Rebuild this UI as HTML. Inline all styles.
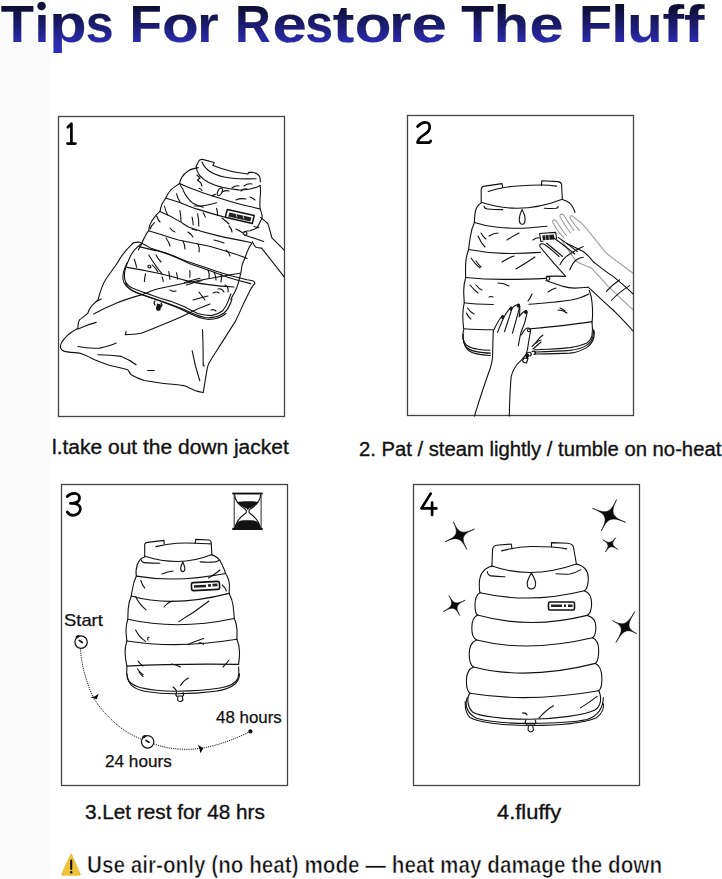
<!DOCTYPE html>
<html><head><meta charset="utf-8">
<style>
*{margin:0;padding:0;box-sizing:border-box}
html,body{width:722px;height:879px;background:#fff;overflow:hidden;position:relative}
body{font-family:"Liberation Sans",sans-serif;}
.w{position:absolute;top:-2px;font-weight:bold;font-size:51.5px;line-height:52px;height:52px;transform-origin:0 0;white-space:nowrap;
 background:linear-gradient(180deg,#0b0b33 0%,#0b0b33 14%,#16166a 45%,#2b2bb8 82%,#2b2bb8 100%);-webkit-background-clip:text;background-clip:text;color:transparent;}
.cap{position:absolute;font-size:20px;line-height:20px;color:#111;-webkit-text-stroke:0.35px #111;white-space:nowrap;transform-origin:0 0}
.lbl{position:absolute;font-size:16.5px;line-height:16.5px;-webkit-text-stroke:0.25px #111;color:#111;white-space:nowrap;transform-origin:0 0}
svg{position:absolute;left:0;top:0}
.s path,.s ellipse,.s circle,.s line,.s polyline{fill:none;stroke:#111;stroke-width:1.1;stroke-linecap:round;stroke-linejoin:round}
.f{fill:#0a0a0a;stroke:none}
.bx{fill:none;stroke:#444;stroke-width:1.3}
.num{fill:none;stroke:#000;stroke-width:2.7;stroke-linecap:round;stroke-linejoin:round}
</style></head><body>
<div id="lstrip" style="position:absolute;left:0;top:0;width:50px;height:879px;background:#fbfbfb"></div>

<div class="cap m" style="left:52.3px;top:437px;transform:scaleX(1.049)">l.take out the down jacket</div>
<div class="cap m" style="left:359px;top:439px;transform:scaleX(1.012)">2. Pat / steam lightly / tumble on no-heat</div>
<div class="cap m" style="left:85px;top:802px;transform:scaleX(1.037)">3.Let rest for 48 hrs</div>
<div class="cap m" style="left:497px;top:802px;transform:scaleX(1.095)">4.fluffy</div>
<div class="cap m" style="left:86.5px;top:853.5px;font-size:23px;line-height:23.5px;font-weight:bold;-webkit-text-stroke:0.6px #fff;paint-order:fill stroke;color:#111;transform:scaleX(0.9)">Use air-only (no heat) mode — heat may damage the down</div>

<div class="lbl m" style="left:64px;top:612px;transform:scaleX(1.115)">Start</div>
<div class="lbl m" style="left:105px;top:753px;transform:scaleX(1.04)">24 hours</div>
<div class="lbl m" style="left:216px;top:708.7px;transform:scaleX(1.024)">48 hours</div>

<svg width="722" height="879" viewBox="0 0 722 879">
<rect class="bx" x="58.5" y="116.5" width="226" height="300"/>
<rect class="bx" x="407.5" y="115.5" width="226" height="300"/>
<rect class="bx" x="61.5" y="484.5" width="226" height="301"/>
<rect class="bx" x="413.5" y="484.5" width="226" height="301"/>
<!-- numbers -->
<path class="num" d="M67.8,127.2 L71.4,123.6 L71.4,143.6 M67.5,143.6 L75.4,143.6"/>
<path class="num" d="M417.5,126.6 C420.9,122.8 424.7,121.9 427.5,122.8 C430,123.8 430.5,127.5 428.5,131 C426.5,134 421,136 419,139 C418,140.5 417.6,141.8 417.6,142.7 L429.2,142.7 L430.8,141"/>
<path class="num" d="M67.2,496.5 C69.5,493.8 72.5,493.2 75,493.4 C78,493.8 79.8,496 79.5,498.5 C79.2,501.3 76.5,503 72.5,503.3 L70.5,503.4 M72.5,503.3 C77,503.5 80.5,505.5 80.4,509 C80.3,513 76.5,515.3 73.2,515.3 C70.5,515.3 68.5,514 67.3,512"/>
<path class="num" d="M430.7,493.6 L421.5,508.4 L436.4,508.4 M432.1,502.6 L432.1,515"/>
<!-- warning icon -->
<path d="M70.7,854.5 Q71.2,853.7 71.7,854.5 L80.3,874.3 Q80.6,875.3 79.6,875.3 L62.2,875.3 Q61.2,875.3 61.6,874.3 Z" fill="#eec335" stroke="#e0b020" stroke-width="0.6"/>
<path d="M71.2,860.5 L71.2,869" stroke="#111" stroke-width="2.1" stroke-linecap="round"/>
<circle cx="71.2" cy="872.3" r="1.2" fill="#111"/>
<path d="M453.3,521.8 C458.7,533.4 461.9,534.5 474.6,529.1 C461.9,534.5 460.7,537.5 466.9,549.5 C460.7,537.5 457.4,536.3 445.0,541.7 C457.4,536.3 458.7,533.4 453.3,521.8 Z" fill="#0a0a0a" stroke="#0a0a0a" stroke-width="0.6" stroke-linejoin="miter" stroke-miterlimit="20"/>
<path d="M616.6,499.6 C610.2,513.0 611.6,516.4 625.7,522.4 C611.6,516.4 607.9,517.8 601.2,531.1 C607.9,517.8 606.6,514.3 592.5,508.3 C606.6,514.3 610.2,513.0 616.6,499.6 Z" fill="#0a0a0a" stroke="#0a0a0a" stroke-width="0.6" stroke-linejoin="miter" stroke-miterlimit="20"/>
<path d="M615.7,537.8 C611.3,543.2 611.6,545.3 617.8,549.4 C611.6,545.3 609.4,545.8 605.4,551.9 C609.4,545.8 609.0,543.6 602.9,539.9 C609.0,543.6 611.3,543.2 615.7,537.8 Z" fill="#0a0a0a" stroke="#0a0a0a" stroke-width="0.6" stroke-linejoin="miter" stroke-miterlimit="20"/>
<path d="M448.9,595.5 C453.6,604.0 456.0,604.7 465.2,600.2 C456.0,604.7 455.2,607.0 459.7,615.5 C455.2,607.0 452.7,606.4 443.3,611.6 C452.7,606.4 453.6,604.0 448.9,595.5 Z" fill="#0a0a0a" stroke="#0a0a0a" stroke-width="0.6" stroke-linejoin="miter" stroke-miterlimit="20"/>
<path d="M634.9,611.5 C626.7,625.0 626.9,628.3 636.8,633.7 C626.9,628.3 623.8,629.6 615.9,642.4 C623.8,629.6 623.3,626.4 612.5,620.6 C623.3,626.4 626.7,625.0 634.9,611.5 Z" fill="#0a0a0a" stroke="#0a0a0a" stroke-width="0.6" stroke-linejoin="miter" stroke-miterlimit="20"/>
<g class="s">
<path d="M492.1,566.0 C484.4,568.2 479.3,574.1 479.3,584.0 C479.3,588.8 479.6,591.7 480.1,592.7"/>
<path d="M576.4,564.0 C583.5,565.7 588.3,570.3 588.3,578.0 C588.3,585.0 586.7,589.2 584.3,590.7"/>
<path d="M480.1,592.7 C477.0,594.2 475.0,598.2 475.0,605.0 C475.0,610.5 476.0,613.8 477.4,615.0"/>
<path d="M584.3,590.7 C588.7,592.2 591.6,596.5 591.6,603.5 C591.6,610.0 589.8,614.0 587.1,615.4"/>
<path d="M477.4,615.0 C474.0,616.6 471.8,620.9 471.8,628.0 C471.8,634.6 473.8,638.6 476.7,640.0"/>
<path d="M587.1,615.4 C592.4,616.8 595.9,620.6 595.9,627.0 C595.9,632.9 594.5,636.5 592.5,637.8"/>
<path d="M476.7,640.0 C472.2,641.7 469.2,646.3 469.2,654.0 C469.2,661.1 470.9,665.4 473.5,667.0"/>
<path d="M592.5,637.8 C596.2,639.3 598.7,643.3 598.7,650.0 C598.7,657.4 597.4,661.8 595.5,663.4"/>
<path d="M473.5,667.0 C469.2,668.7 466.4,673.3 466.4,681.0 C466.4,687.8 467.8,691.8 470.0,693.3"/>
<path d="M595.5,663.4 C599.3,665.2 601.9,670.2 601.9,678.5 C601.9,685.2 600.7,689.2 598.9,690.7"/>
<path d="M480.1,592.7 Q529.8,604.3 584.3,590.7"/>
<path d="M477.4,615.0 Q529.8,629.8 587.1,615.4"/>
<path d="M476.7,640.0 Q527.4,653.1 592.5,637.8"/>
<path d="M473.5,667.0 Q527.5,680.8 595.5,663.4"/>
<path d="M470.0,693.3 Q527.5,703.0 598.9,690.7"/>
</g>
<g class="s">
<path d="M491.9,566.2 L492.6,549.5 Q493,545.6 496.5,545.2 L511.3,544 L512,548.9"/>
<path d="M501.6,550.9 C512,548 522,546.6 531,546.5 C545,546.4 558,547.3 566.7,548.9"/>
<path d="M551.5,546.8 L551.5,542.6 L568,543.2 Q573.4,544 573.6,548 L576.4,564"/>
<path d="M492.1,566 Q531,580 576.4,564"/>
<path d="M487.3,571.6 Q488,575.5 491,575.9 Q498,576.8 505,576.7"/>
<path d="M556,573.8 Q565,574.5 570,574 Q576,572.5 580.8,569.6"/>
<path d="M531.4,573.1 C529,577 527.2,580.5 527.2,583.8 C527.2,587.5 529,589 531.4,589 C533.8,589 535.6,587.5 535.6,583.8 C535.6,580.5 533.8,577 531.4,573.1 Z"/>
<path d="M470,693.3 C467,696 466.5,706 472.5,712 C478,716 505,719.5 530.6,719.3 C556,719 585,715 595,710 C601,706 602,698 598.9,690.7"/>
<path d="M467.3,697.5 C465,703 465.5,713 476.6,718.2 C490,722 510,723.5 530.6,723.4 C552,723.3 575,722 587,719.5 C598,716 603,708 603.4,697.5"/>
<path d="M465.2,701.6 C465,708 466,714 470,717.5 C478,722 500,725.5 530.6,725.5 C560,725.5 585,722.5 596,718 C602,714 604,708 603.4,703.7"/>
<path d="M539,718.2 Q546,710 553.5,705.8"/><path d="M522.3,713 Q526,712.5 527,715"/>
<path d="M580.5,707.9 Q590,702 597.1,696.4"/>
<path d="M526,720 q-2,3 1,4.5 M535,720 q2,3 -1,4.5"/>
<path class="f" d="M528.5,725 L532.5,725 L533.5,730 Q530.6,734 528,730 Z"/>
</g>
<rect x="548.5" y="602" width="26" height="8" rx="1.5" fill="#fff" stroke="#111" stroke-width="1.6"/>
<path d="M551,604.5 h11 v2.6 h-11z M564,604.5 h2 v2.6 h-2z M568,604.5 h4.5 v2.6 h-4.5z" fill="#222"/>
<g class="s">
<path d="M144.7,556.3 L144.7,544.8 Q145,542.6 147.5,542.4 L164.1,540.4 L164.1,543.9"/>
<path d="M155.8,546.6 C163,544.8 170,543.6 176.6,543.2 C184,542.8 190,542.9 195.9,543.2 C201,543.4 206,543.6 210.5,543.9"/>
<path d="M195.2,543.2 L195.7,539.4 L209.1,540 Q211.2,540.8 211.2,542.5 L211.9,554.6"/>
<path d="M144.7,556.3 Q180.7,567.5 211.9,554.6"/>
<path d="M144.7,557 C141,558 138.5,561 137.2,565 C136,569 135.7,573 136.4,576.1"/>
<path d="M211.9,554.9 C216,556 219.5,559 221.5,563.5 C223.5,567.5 224.8,570.5 225.6,573.5"/>
<path d="M141.2,559.8 Q142,562.5 144.5,562.6 Q152,563.2 159.9,563.2"/>
<path d="M200.1,561.9 Q208,562.5 215.3,561.9 Q217.5,561.3 218.8,560.5"/>
<path d="M182.8,561.9 C181.5,564.5 180.7,566.5 180.7,568.5 C180.7,570.5 181.6,571.6 182.8,571.6 C184,571.6 184.9,570.5 184.9,568.5 C184.9,566.5 184,564.5 182.8,561.9 Z"/>
<path d="M136.4,576.1 Q177.1,583 225.6,573.5"/>
<path d="M136.4,576.1 C134,581 133,585 132.5,589 C132,592 131.5,594 131.3,596"/>
<path d="M225.6,573.5 C228,577 229.3,581 229.4,585 C229.5,588 229.3,590.5 229.1,593.4"/>
<path d="M131.3,596 Q171.9,608 229.1,593.4"/>
<path d="M131.3,596 C129.5,600 128.5,605 128.2,609 C128,613 127.9,616 127.8,619.3"/>
<path d="M229.1,593.4 C231,597 232.5,601 233,605 C233.5,609 234,614 234.3,618.5"/>
<path d="M127.8,619.3 Q177.1,630.5 234.3,618.5"/>
<path d="M127.8,619.3 C126.5,623 126,627 126,630.5 C126,634 126.5,637.5 126.9,641"/>
<path d="M234.3,618.5 C236,622 236.9,626 237,630 C237.1,634 237,637 236.9,639.3"/>
<path d="M126.9,641 Q177.1,649 236.9,639.3"/>
<path d="M126.9,641 C125.5,645 125,649 125.1,653 C125.2,657 125.8,661.5 126.9,666.1"/>
<path d="M236.9,639.3 C238.5,643 239.4,647 239.5,651.4 C239.6,656 239.2,660 238.6,664.4"/>
<path d="M126.9,666.1 Q177.1,663.5 238.6,664.4"/>
<path d="M126.9,667 C126.5,671 126.5,675 127.5,678.5 C129,682.5 133,685.5 140,687.5 C152,690.5 165,691.3 177.1,691.2 C192,691 208,690 220,688 C229,686.5 236,683 238,678 C239,674.5 239,670 238.6,667"/>
<path d="M126.9,673.9 C127.5,678.5 128.5,682 131,684.8 C135,688.5 140,690.5 146,691.5 C157,693.3 167,693.9 177.1,693.8 C190,693.7 203,692.8 215.2,691.2 C224,690 231,687.5 235,684 C238.5,680.5 239.5,677 239.5,673.9"/>
<path d="M140.8,580.4 Q142,585 144.8,588.2"/><path d="M135.6,596.5 Q139,604 146,609.8"/>
<path d="M164,607 Q168,602 173,601"/><path d="M178.8,621.6 Q195,612 209,601"/><path d="M222.2,585 Q225,587 226.4,591"/>
<path d="M135.6,630 Q139,637 145.5,641.4"/><path d="M148,640 Q147,637 149,637.5"/>
<path d="M187.8,644.5 Q196,641 203.5,638.5"/><path d="M199,643 Q202,642.5 203.5,644.5"/>
<path d="M138,661 Q140,664 143,666"/><path d="M171.5,664 Q176,664.5 180.5,667"/><path d="M223,667 Q226,664 229,660"/>
<path d="M137.5,669 Q140,672.5 143,674.5"/><path d="M139,672 Q141,675 143,676.5"/>
<path d="M180.6,685.5 Q184,680 188.5,678"/><path d="M173,687 Q175,688 176.5,691"/>
<path d="M162,574 Q168,571.5 173,571"/><path d="M208.5,578 Q214,575 220,570"/>
<path d="M176.5,692.5 q-1.5,2.5 0.5,4 M183,692.5 q1.5,2.5 -0.5,4"/>
<path d="M178,696 L182,696 L183,700 Q180,703 177.5,700 Z" style="fill:#fff"/>
</g>
<rect x="191.5" y="582" width="28" height="8" rx="2" fill="#fff" stroke="#111" stroke-width="1.6" transform="rotate(-3 205 586)"/>
<path d="M194,584.7 h12 v2.6 h-12z M208,584.4 h3 v2.6 h-3z M212.5,584.2 h5 v2.6 h-5z" fill="#222" transform="rotate(-3 205 586)"/>
<g class="s">
<circle cx="81.1" cy="642.1" r="6.2" style="stroke-width:1.25"/>
<circle cx="147.6" cy="741.8" r="6.2" style="stroke-width:1.25"/>
<path d="M79.3,640.4 L82.3,642.5 M146.1,740.5 L148.9,742.2" style="stroke-width:1.7"/>
</g>
<ellipse cx="77.6" cy="636.6" rx="2.2" ry="1.3" transform="rotate(-35 77.6 636.6)" fill="#111"/>
<ellipse cx="144.2" cy="736.6" rx="2.2" ry="1.3" transform="rotate(-30 144.2 736.6)" fill="#111"/>
<path d="M80.5,648.4 C81,662 85,678 91.7,694.2 C97,705 108,718 122.4,729 C128,733 134,736 141.2,739.2" fill="none" stroke="#1a1a1a" stroke-width="1.0" stroke-dasharray="1.2 1"/>
<path d="M153.9,743.8 C163,747.5 175,749.5 188,749.3 C205,749 225,744 250.1,731.6" fill="none" stroke="#1a1a1a" stroke-width="1.0" stroke-dasharray="1.2 1"/>
<path class="f" d="M90.4,697.2 L95,696.2 L98.8,693.4 L96.8,699.3 Z"/>
<path class="f" d="M197.8,744.8 L203.4,748.3 L200.4,753.2 L199.3,748.3 Z"/>
<circle cx="250.4" cy="731.4" r="2.1" fill="#111"/>
<g>
<rect x="232.3" y="492.6" width="30.4" height="1.9" fill="#111"/>
<rect x="232.3" y="527.9" width="30.4" height="2.1" fill="#111"/>
<path d="M234.2,494.5 V528 M261.1,494.5 V528" stroke="#111" stroke-width="0.9"/>
<path d="M234.6,494.5 C235,502 240,506 245.4,509.3 C246.4,510.3 246.5,512 245.9,513 C240,517 236,522 235,528 M260.6,494.5 C260.3,502 255.5,506 249.9,509.3 C248.9,510.3 248.8,512 249.4,513 C255.4,517 259.4,522 260.3,528" fill="none" stroke="#111" stroke-width="1.1"/>
<path d="M237.1,502 C242,501 253,501 258.9,502 C256,505 251,507.5 248.8,508.5 L247.9,510.6 L246.7,508.5 C244,507.5 239,505 237.1,502 Z" fill="#111"/>
<path d="M234.7,528 C235.5,524 237.5,521.5 241,520.6 C245,520 250,520 254,520.6 C258,521.5 260,524 260.7,528 Z" fill="#111"/>
</g>

<g class="s">
<!-- collar -->
<path d="M481.2,202 L481.2,189.5 Q481.5,186.3 484.7,186.1 L502,183.6 L502.7,187.5"/>
<path d="M488.2,191.6 C493,189.8 497,188.5 502.7,187.7 C508,186.8 514,186.2 520.7,185.8 C528,185.3 535,185.1 541.5,185 C547,185 552,185.4 556.7,186.1"/>
<path d="M541.5,185.4 L541.8,180.8 L558.1,181.6 Q561.4,182.3 561.6,184.5 L562.3,199.2"/>
<path d="M481.2,202.3 Q520.7,215.5 562.3,199.2"/>
<path d="M481.2,203 C479,204 477.8,205.5 477.1,206.9 C475.8,209 475.2,211.5 475,213.8 C474.6,217 474.4,220 474.4,222.4"/>
<path d="M562.3,199.6 C565,200.5 567.5,201.5 569.2,202.7 C571,204.5 572.4,206.2 573.3,208.2 C574,209.6 574.6,211 575,212.4"/>
<path d="M484,206.2 Q484.5,208.9 487.5,209 Q495,209.5 502.7,209.6"/>
<path d="M544.3,208.2 Q551,208.6 556,208.3 Q558.3,207.8 558.1,206.2"/>
<path d="M522.1,209.6 C520.5,213 519.3,216 519.3,219.5 C519.3,222.5 520.6,224.2 522.4,224.2 C524.2,224.2 525.1,222.5 525.1,219.5 C525.1,216 524,213 522.1,209.6 Z"/>
<path d="M474.4,222.4 C481,224.5 488,226.2 495.8,227 C503,227.8 510,228.3 516.6,228.3 C526,228.2 536,227.4 547,226.2"/>
<path d="M474.4,222.4 C472.5,226.5 471.2,231 470.5,235.9 C469.7,240.5 469,245 468.6,249.5"/>
<path d="M468.6,249.5 C480,251.7 491,253 503.5,253.4 C516,253.7 528,253.3 540.3,252.4"/>
<path d="M468.6,249.5 C467,254 466,258.5 465.7,263.1 C465.4,268 465.5,273 465.7,277.5"/>
<path d="M465.7,277.5 C478,278.8 490,279.4 503.5,279.4 C518,279.4 532,279 546.1,278.4"/>
<path d="M465.7,277.5 C464.3,282 463.7,286.5 463.7,291 C463.7,295 464,299 464.3,302.7"/>
<path d="M464.3,302.7 C472,303.8 482,304.3 493.3,304.5"/>
<path d="M529,304.2 C537,303.8 545,303 553.2,302.2 C560,301.5 566,300.8 571,300 C578,298.6 584,296.5 588.7,293.9"/>
<path d="M589.3,290.5 C590.8,294 591.7,298 592,302.2 C592.4,306 592.6,309.5 592.6,313.2 C592.6,316.5 592.4,319.3 592,322.1"/>
<path d="M464.3,302.7 C463.2,307 462.8,311.5 462.8,316.2 C462.8,320.5 463.1,324.7 463.7,328.8"/>
<path d="M463.7,328.8 C473,329.4 483,329.7 493.3,329.8"/>
<path d="M530.5,328.8 C542,327.8 553,326.8 564.3,325.4 C574,324.2 583,323 592,321.6"/>
<path d="M463.7,329.8 C462.9,332.5 462.6,335 462.8,337.6 C463.3,341 464.6,343.5 466.6,345.3 C469.5,347.4 473.5,348.6 478.3,349.2 C482,349.8 486,350.1 490,350.3"/>
<path d="M534.4,349.8 C539,349.6 543.5,349.5 547.7,349.3 C555,349 562.5,348.5 569.9,347.6 C576.5,346.6 582,345.2 586.5,343.2 C589.5,341.4 591.5,338.5 592,335.4 C592.6,332 593,330 592,322.1"/>
<path d="M463.3,334 C462.8,339 463.6,344 466.6,347.5 C470,350.5 476,352 483,352.6 C486,352.9 489,353.1 490.5,353.1"/>
<path d="M534.4,352 C546,351.6 558,351.2 569.9,350.4 C577,349.6 582.5,348 586.5,345.4 C590,343 592,340 592.6,337.6 C593.2,335 593.6,332.5 593.7,329.9"/>
<path d="M463.2,338 C463.5,343 465,347.5 468.5,350.5 C472.5,353.5 479,355 490.5,355.5"/>
<path d="M534.4,354 C546,353.8 558,353.6 569.9,353.1 C577,352.4 582.5,350 586.5,347.6 C590.5,345 592.8,341.5 593.8,337.5 C594.4,335 594.5,333 594.2,331"/>
<!-- creases -->
<path d="M478,236 Q481,243 485,247"/><path d="M481,233 Q483,237 486,239"/>
<path d="M489,236 Q494,233 498,233"/><path d="M507,240 Q513,236 519,233"/>
<path d="M533,240 Q537,237 540,238"/>
<path d="M471,258 Q475,264 480,268"/><path d="M476,261 Q479,265 481,267"/>
<path d="M502,262 Q508,258 514,256"/><path d="M516,269 Q526,263 535,257"/>
<path d="M470,285 Q474,290 478,293"/><path d="M476,285 Q479,289 482,290"/>
<path d="M489,297 Q491,296 493,297"/><path d="M498,283 Q504,283 509,286"/>
<path d="M548,292 Q552,289 556,288"/><path d="M528,301 Q531,297 532,294"/>
<path d="M558,310 Q563,310 567,313"/><path d="M560,308 Q563,309 565,311"/>
<path d="M467.5,308 Q470,312 474,314"/><path d="M466.5,313 Q468,317 471,319"/>
<path d="M536,343 Q539,340 541,340"/><path d="M537,341 Q540,337 543,335"/>
<!-- right dark hand -->
<path d="M539.6,233.5 L555.7,232.4 L556.5,238.5 M539.6,233.5 L540.8,241.5 L543,241.3"/>
<path d="M542,243.8 C540.2,243.8 539.4,245 539.9,246.5 C548,256.5 556.5,266.5 565.7,276.4"/>
<path d="M542,243.8 C543.5,243.6 545,244.5 546,245.5 C551,249 555,252.5 559,256.5"/>
<path d="M546.6,243.2 C552,247.5 557.5,252 562.4,256.5"/>
<path d="M554.1,238.2 C561,243 568,248.5 574.8,254"/>
<path d="M558.2,237.4 C565,242 571,246.5 577.3,251.5"/>
<path d="M566.5,243.2 C569,244.5 572,245.8 574.8,247.3 C578,249 581,250.5 583.2,251.5 C587,254.5 590.5,258 593.1,261.5 C600,267 606,272 613.1,276.4 C620,282 627,288 633,293.9"/>
<path d="M559.9,264.8 C562,260.5 565.5,256.5 569.9,254 C574,251 578.5,248.5 583.2,246.5"/>
<path d="M569.9,269.8 C571.5,265.5 573.5,262 576.5,259.8 C578.5,258.5 581,257.5 583.2,257.3"/>
<path d="M546.6,276.4 C552.5,276 558.5,276 564.9,276.4"/>
<path d="M545.8,280.6 C551.5,282.5 557.5,284.5 563.2,286.4 C567,287.5 571,288 574.8,288.1 C579.5,288 584,287.6 588.1,287.2"/>
<path d="M588.1,287.2 C598,296 606,304 613.1,310 C620,317 627,324 633,331"/>
<path d="M606.4,291.4 Q612,285 619.7,279.7"/><path d="M611.4,300.5 Q619,292 629.7,285.6"/>
<circle cx="548.1" cy="278.5" r="1.8"/>
<path d="M542.3,235.5 L553.8,234.6 L554.3,239.5 L542.8,240.3 Z" style="fill:#1a1a1a;stroke:none"/><path d="M545.5,235.5 L545.8,239.8 M549,235 L549.3,239.5" style="stroke:#fff;stroke-width:0.6"/>
<!-- left hand -->
<path d="M474.4,416.1 C480,398 486,380 490,369 C491.5,364 492.3,360 492.5,358.2 C492.8,348 492.9,340 493.3,330.8 C495.5,326.5 498,321.5 500.8,317.5 C501.5,316.6 502.2,316.1 502.9,316.2 C503.6,316.4 503.9,317 503.7,317.5 C501.5,322.5 499.5,327.5 497.5,332.4"/>
<path d="M503.7,317.5 C505.5,314 508,310.5 510.2,308.2 C511,307.6 511.8,307.7 512,308.3 C511.5,310.5 509,318 504.5,331.6"/>
<path d="M512,308.3 C513.5,306.5 515.5,305.2 517,304.8 C518.5,304.6 519.6,305.3 519.8,306.2 C518.5,312 515.5,322 512.4,333.3"/>
<path d="M519.8,306.5 C520,310.5 519.7,314 519.1,316.6 C521,314 523,312 524.5,311.2 C525.8,310.6 527,311 527.2,312.3 C526,319 523.5,327 520.7,333.3 C519.8,337.5 519,341.5 518.3,345.7"/>
<path d="M521.6,334.9 C523,331.5 525,329 526.8,328.2 C528.6,327.6 530.6,328.4 530.7,330 C529.5,336.5 528.3,343.5 527.4,349.9 C526.8,351.8 526.3,353.5 525.7,354.9 C524.5,356.5 523,358 521.6,359.9 C518,363 515.5,366 514.1,369 C512.5,372 511.7,374.5 511.2,376.3 C510,390 509.5,403 509.3,416.1"/>
<circle cx="528.9" cy="330.2" r="1.4"/>
<ellipse cx="502.6" cy="317" rx="1" ry="1.4" transform="rotate(25 502.6 317)" style="fill:#222"/><ellipse cx="511" cy="308.6" rx="1" ry="1.5" transform="rotate(25 511 308.6)" style="fill:#222"/><ellipse cx="518.3" cy="305.6" rx="1.1" ry="1.5" transform="rotate(15 518.3 305.6)" style="fill:#222"/><ellipse cx="525.8" cy="312" rx="1" ry="1.5" transform="rotate(20 525.8 312)" style="fill:#222"/>
<path d="M525.5,355.5 L527.5,353.8 L529,355.3 L527,358.5 Z" style="fill:#111"/><path d="M524,358 L528,358.5 L526.5,363 Q523.5,363 522.5,361 Z"/>
<path d="M527,353 q2,-1.5 4,0 q1,2 -1,3 M532,351.5 q2,-1 3.5,0.5 q0.5,2 -1.5,2.5"/>
<path d="M533,349 Q537,345.5 541,342"/><path d="M532,346.5 Q535,343.5 537,341.5"/>
</g>
<g class="s" style="opacity:0.4">
<path d="M554.1,219.9 C552.6,220 552.3,221.5 553,223 C556.5,229 560,234 564,238.2"/>
<path d="M554.1,219.9 C555.6,219.9 556.4,221 557,222.3 C560,227 563,231.5 566.5,235.5"/>
<path d="M561.5,214.1 C560,214.2 559.6,215.6 560.3,217.2 C563.5,223 567,228.5 570.5,233"/>
<path d="M561.5,214.1 C563.1,214 564,215.2 564.7,216.6 C567.5,221.5 570.5,226 574,230.5"/>
<path d="M571.5,215.8 C570,216 569.7,217.3 570.4,218.8 C573,223 576,227 579.5,230.5"/>
<path d="M571.5,215.8 C572.5,215.9 573,216.2 573.2,216.6 C576,219 579,221 581.5,223.2 C585,227 588.5,231 591.5,234.9 C596.5,241 601.5,247.5 606.4,253.2 C615,260 624,266.5 633,273.1"/>
<path d="M561.5,239.9 C566,247 571,254.5 576.5,261.5 C581.5,264 586.5,266 591.5,268.1 C597,274 602.5,280 608.1,286.4 C616.5,294 624.5,302 633,309.7"/>
</g>

<defs><linearGradient id="tg" gradientUnits="userSpaceOnUse" x1="0" y1="-36" x2="0" y2="8"><stop offset="0" stop-color="#0d0d2e"/><stop offset="0.15" stop-color="#121245"/><stop offset="0.5" stop-color="#1e1e78"/><stop offset="0.8" stop-color="#2a2aaa"/><stop offset="1" stop-color="#2c2cb8"/></linearGradient></defs>
<g font-family="Liberation Sans" font-weight="bold" font-size="52" fill="url(#tg)" stroke="url(#tg)" stroke-width="0.15">
<text transform="translate(0.70,41.6) scale(1.042,1)">T</text>
<text transform="translate(34.42,41.6) scale(1.025,1)">ı</text>
<text transform="translate(49.17,41.6) scale(1.175,1)">p</text>
<text transform="translate(85.75,41.6) scale(0.962,1)">s</text>
<text transform="translate(129.45,41.6) scale(1.020,1)">F</text>
<text transform="translate(161.96,41.6) scale(1.155,1)">o</text>
<text transform="translate(197.18,41.6) scale(1.055,1)">r</text>
<text transform="translate(235.08,41.6) scale(0.952,1)">R</text>
<text transform="translate(272.39,41.6) scale(1.186,1)">e</text>
<text transform="translate(305.25,41.6) scale(0.962,1)">s</text>
<text transform="translate(332.72,41.6) scale(1.245,1)">t</text>
<text transform="translate(354.66,41.6) scale(1.155,1)">o</text>
<text transform="translate(389.25,41.6) scale(1.093,1)">r</text>
<text transform="translate(411.51,41.6) scale(1.226,1)">e</text>
<text transform="translate(461.21,41.6) scale(1.032,1)">T</text>
<text transform="translate(493.75,41.6) scale(1.112,1)">h</text>
<text transform="translate(529.41,41.6) scale(1.179,1)">e</text>
<text transform="translate(578.98,41.6) scale(1.039,1)">F</text>
<text transform="translate(611.11,41.6) scale(1.207,1)">l</text>
<text transform="translate(627.21,41.6) scale(1.115,1)">u</text>
<text transform="translate(662.40,41.6) scale(1.240,1)">f</text>
<text transform="translate(683.96,41.6) scale(1.179,1)">f</text>
</g>
<circle cx="41.6" cy="6" r="4.3" fill="#0f0f3a"/>

<g class="s">
<!-- collar -->
<path d="M196.2,166.2 L198.8,161 Q199.8,159.3 202.5,159.4 L214.3,162.5 L213,165.6"/>
<path d="M202,162 C205,170 213,174.5 224,177 C236,179.5 247,179 256,178.7"/>
<path d="M213,165.6 C224,170 236,173 247.9,174"/>
<path d="M247.9,174 L248.6,172.4 L252.3,172.2 Q258,173.5 259.8,176.8 L260.4,182"/>
<path d="M196.2,166.2 C196.5,172 200,178 208.7,182.4 C215,185.5 225,188.5 238.6,189.9 C246,190.3 253,189.5 260.2,185.5"/>
<ellipse cx="219.9" cy="191.8" rx="2.1" ry="4" transform="rotate(25 219.9 191.8)"/>
<!-- body outline -->
<path d="M198.2,167.6 C193,168.5 190,169.5 188.5,170.7 C185,173 183,175 181.7,177.5 C180.7,179.5 180,181.5 179.5,183.5 C176,186 173,188 170.7,190 C168.5,192.5 167,195 165.7,198.3 C164,200 163,202 162,204 C161,206.5 160.5,209 159.9,211.6 C158,213 156.5,214.5 154.9,216.6 C152.5,219.5 151,222 149.9,224.9 C149.3,227 148.9,229 148.7,230.7 C147,232.5 146,234.5 144.9,236.6 C143.5,239 142.5,241.5 141.6,244 C140.5,246 139.5,248 138.3,249.9"/>
<path d="M179.5,183.5 C186,186.5 192,189 198.2,191 C206,194 214,196.5 221.4,198.8 C231,201.8 240,204.5 248.6,206.3 C252,207 256,208 260.1,208.9"/>
<path d="M165.7,198.3 C170,199.5 175,201 179.9,202.5 C186,205 192,207.5 198.2,209.4 C208,212.5 218,215.5 225.3,217.2"/>
<path d="M254.2,226.5 L258.9,227.7"/>
<path d="M159.9,211.6 C167,214.5 174,218 179.9,221.6 C183,223.5 186,225.5 188.5,226.9 C198,230.5 208,233.5 217.6,235.6 C228,238 238,240 250.7,242.5"/>
<path d="M148.7,230.7 C158,233.5 168,237 178.5,240 C188,242 198,244 208.6,246 C219,249 229,252 240,255.7 C242.5,256.5 245,257.5 247.1,258.5"/>
<path d="M260.2,185.5 C260.8,190 260.6,195 260,199 C259.8,202.5 259.8,206 260.1,208.9 C261,211 261.8,213.5 262.2,216.2 C262.3,218 262,219.5 260.5,221 C259.5,223.5 258.5,225.5 257,227.7"/>
<path d="M252.4,242 C251.5,244 250.5,245.5 249.3,247.1 C247.7,250.5 246.3,254 245.2,257.4 C244,260 243,262.5 242.2,264.5 C241.7,267 241.3,269.5 241.1,271.7 C240.5,274.5 239.8,277 239.1,279.9 C238.5,282.5 237.7,285 237,287 C236,289.5 235,292 233.5,294.5 C232,297 231,299 230.9,299.5"/>
<!-- label -->
<path d="M227.3,209.4 L254.2,215.6 L252.3,223.5 L225.3,217.2 Z" style="stroke-width:1.5"/>
<!-- hand -->
<path d="M244.2,231.7 C246,231 248,230.7 250.4,230.7 C252,230 254.5,229.2 257,227.7"/>
<path d="M244.7,235.3 C247.5,236.2 250.5,237 253.4,237.9 C257,239.2 260.5,240.5 263.7,241.5"/>
<circle cx="245.3" cy="233.5" r="1.7"/>
<path d="M260.6,217.4 C263,219.5 266,221.5 267.8,223.6 C269.5,228 270.5,233 271.9,237.9 C276,242 280,246 284.2,250.2"/>
<path d="M252.4,242 C253.5,244 254.5,246 255.5,247.1 C257.5,247.8 259.5,248 261.6,248.1 C269,257.5 276.5,267 284.2,276.8"/>
<!-- bag rim -->
<path d="M132,244.1 C133,242.5 135,242 138.8,242.1 C143,243.5 147,246 150.4,248 C156,250 162,252 167.9,253.8 C174,256 181,259 187.3,261.5 C197,264.5 207,268 216.3,271.2 C226,274.5 237,277.5 247,279.8 C250,280.4 252,280.5 252.8,280.7 Q255,281.5 254.7,283.6"/>
<path d="M138.8,246.6 C145,248.2 151,249.8 158.2,250.9 C168,253.5 178,258 189.2,263.5 C203,268 216,273 227.6,277.2 C236,279.8 244,282 250.8,283.6"/>
<!-- bag outline -->
<path d="M132,244.1 C128,248 122,254 118,262 C114,268 110,273 106,279 C102,285 100,292 98,300 C95,303 92,305 91.2,306.6 C89,309 88.5,311.5 87.9,313.2 C85,316 81.5,318 79.6,319.9 C78,322 78,326 77.9,328.2 C74,330.5 70.5,332.5 68,334.8 C65,337.5 62.5,340.5 61.3,343.1 C60.5,345 60.2,346.8 60.5,348.1 C61.5,350 63,351 64.6,351.4 C69,352.3 74,352.7 79.6,353.1 C85,355 90,357.5 94.6,359.7 C99,361.5 103.5,363.2 107.9,364.7 C114,366.5 121,368 127.8,369.7 C129,371.5 130,373.5 131.1,374.7 C135,377 139.5,379 144.4,380.5 C155,382.5 167,384 178,384.7 C181,385 182.5,385.3 183.9,385.6 C187.5,387 191,389 194.9,390.4 C198,391.5 200.5,392 203.2,392.5"/>
<path d="M203.2,392.5 C203.8,389.5 204.2,387 204.6,384.2 C205.5,378.5 206.5,372.5 207.4,367.6 C207.8,366 208.3,364.5 208.8,363.4 C211,359.5 213.5,355.5 215.7,352.3 C219,347 222.2,342 225.4,337.1 C228.5,332 231.8,327 235.1,321.9 C238,316 240.8,310 243.4,303.9 C245.8,299 248,294.5 250.3,290 C251.5,287.5 253,285.5 254.7,283.6"/>
<!-- jacket bottom in bag -->
<path d="M140.7,244.1 C137,247 133,251 130.5,256 C128,261 126,266 124.8,271 C124.2,275 124.4,279 125.5,281.5 C127,284.5 130,287 132.8,288.3 C138,290.5 144,292.8 151.1,294.9 C158,297.5 164,299.5 170,301.1 C175,303 179.5,304.8 183.9,306.6 C188.5,309 193,311.5 197.7,313.5 C202,314.8 207,315.6 211.6,315.6 C215.5,315 219.5,313.2 222.6,310.8 C225,308 227,304.5 228.2,301.1 C229.3,298 230.3,295.5 230.9,294"/>
<path d="M127,263 C124,269 122.5,275 123,279.5 C124,284 127,287.5 131,290 C137,293 144,295.5 151,297.5 C160,300.5 170,304 183,309 C190,312.5 197,316 205,317.5 C212,318.3 219,316.5 224,313 C228,309.5 230.5,304 232,299"/>
<path d="M125.5,283 C128,288 131,290.5 136,292.5 C144,295.5 152,298.5 160,301 C170,304.5 182,309.5 190,313.5 C196,316.5 201,318.5 207,319.3 C214,319.7 221,317.5 226,313.5"/>
<path d="M127.1,267.4 C140,269.5 150,271.5 158.2,273.2 C168,275.5 178,278 187.3,280.9 C200,284 215,286 234,287"/>
<path d="M93.7,314 C100,310.5 108,306.5 116.2,303.2 C124,300 132,297.5 141.1,294.9 C147,292.5 152,290.5 158.2,288.7 C175,285 190,282 206.7,279 C218,277 229,275 240,273.2"/>
<path d="M126.1,331.5 L125.3,334.8 C130,334.5 136,334 141.1,333.2 C153,329 165,323.5 178,318.2 C181,317 184.5,315.5 188,313.5 C195,310 203,306.5 210,304"/>
<path d="M77.9,329 C84,326.5 90,324 96.2,322.4"/>
<path d="M77.9,346.5 C85,348 92,348.6 99.5,348.1 C105,347 111,345.5 116.2,343.1"/>
<path d="M97.9,354.8 C106,355 114,355.5 121.2,356.4 C127,358.5 132,361.5 136.1,364.7"/>
<path d="M147.7,370.5 L154.4,370.5"/>
<path d="M202.5,329.5 C203,341 203.2,353 203.2,365.5 L204.5,366"/>
<path d="M192.2,350.9 C194,361 196.5,371 199.8,380.7"/>
<path d="M97.9,300.7 L101.2,299.1"/>
<!-- zipper -->
<path d="M155,301 q-2,2 0,4 M161,303 q2,2 0,4"/>
<path d="M157.5,304 L160.5,305 L160,309.5 Q157.5,311.5 156.5,308.5 Z" style="fill:#111"/>
<!-- creases -->
<path d="M179.9,183.9 Q181,187 183.2,189.4"/><path d="M176.6,193.8 Q177.5,198 179.9,201.6"/>
<path d="M183.2,190.5 C186,196 189,200 192.1,202.7 C196,205 199.5,206.3 203.2,207.1"/>
<path d="M194.3,206 Q204,206.5 216.5,202.7"/>
<path d="M164.4,206 Q165.5,211 167.7,214.9"/><path d="M179.9,210.5 Q181,216 181,221.5"/>
<path d="M192.1,217.1 Q193,221 193.2,224.9"/><path d="M197.6,213.8 Q199,220 198.8,226"/>
<path d="M203.2,212.7 Q204.5,215 205.4,217.1"/><path d="M216.5,208.2 Q217.5,211 217.6,214.9"/>
<path d="M197,175 L200,178 L197.5,180 L201,183 L202,186"/><path d="M198.8,188.3 Q200.5,188.5 202.1,190.5"/>
<path d="M212,196 Q214,194.5 215.4,194.4"/><path d="M192.1,229.3 Q194,229.5 196.5,230.4"/>
<path d="M156.6,216 Q158,220 160,222"/><path d="M154.4,222.6 Q151,226 150,229"/>
<path d="M222,192 Q226,190 229,191"/><path d="M232,188 Q236,185 239,186"/><path d="M241,191 Q244,188 247,189"/>
<path d="M236,200 Q240,198 246,199"/><path d="M250,197 Q253,198 255,200"/><path d="M244,186 Q248,183 252,184"/>
<path d="M222,218 Q226,221 229,224"/><path d="M236,229 Q240,231 243,233"/><path d="M229,226 Q232,229 232,232"/>
<path d="M170,228 Q172,231 175,232"/><path d="M188,232 Q191,234 193,237"/><path d="M214,240 Q219,241 224,243"/>
<path d="M166,238 Q169,242 170,246"/><path d="M183,241 Q185,245 185,249"/><path d="M198,244 Q200,248 199,252"/><path d="M226,250 Q229,252 230,256"/>
<path d="M148.8,255 C153,262 157,268 162.1,273.8"/><path d="M152.1,264.9 Q156,268 158,272"/>
<path d="M134.4,259.4 Q135.5,263 136.6,267.1"/><path d="M168.8,271.6 Q169.5,275 169.9,279.3"/>
<path d="M176.5,272.7 Q177.3,276 177.6,279.3"/><path d="M189.8,270.5 Q190.2,274 189.8,277.1"/>
<path d="M145.5,273.8 Q144.5,278 144.4,281.5"/><path d="M162.1,277.1 Q163,279 163.2,281.5"/>
<path d="M148,266 q2,-2 3,1 q-1,2 -3,0"/><path d="M156,255 Q158,259 161,262"/>
<path d="M184.3,282.6 Q192,280 200,278.2"/><path d="M186.5,285 Q194,282.5 202,280.5"/>
<path d="M208,270 Q210,274 209,278"/><path d="M214,272 Q216,276 216,280"/><path d="M221,274 Q222,278 221,282"/>
<path d="M213,293 Q217,291 219,293"/><path d="M218,289 Q222,288 224,292"/>
<path d="M193,300 Q200,298 208,296"/><path d="M211,310 Q214,309 216,311"/><path d="M199,292 Q202,296 205,300"/>
<path d="M225,285 Q229,287 228,292"/><path d="M170,290 Q173,292 176,291"/>
</g>
<path d="M229.5,212.5 L251.5,217.6 L250.2,221.5 L228.2,216.4 Z" fill="#222"/>
<path d="M236,213.8 L237,217.3 M243,215.5 L244,219" stroke="#fff" stroke-width="0.7"/>

</svg>
</body></html>
